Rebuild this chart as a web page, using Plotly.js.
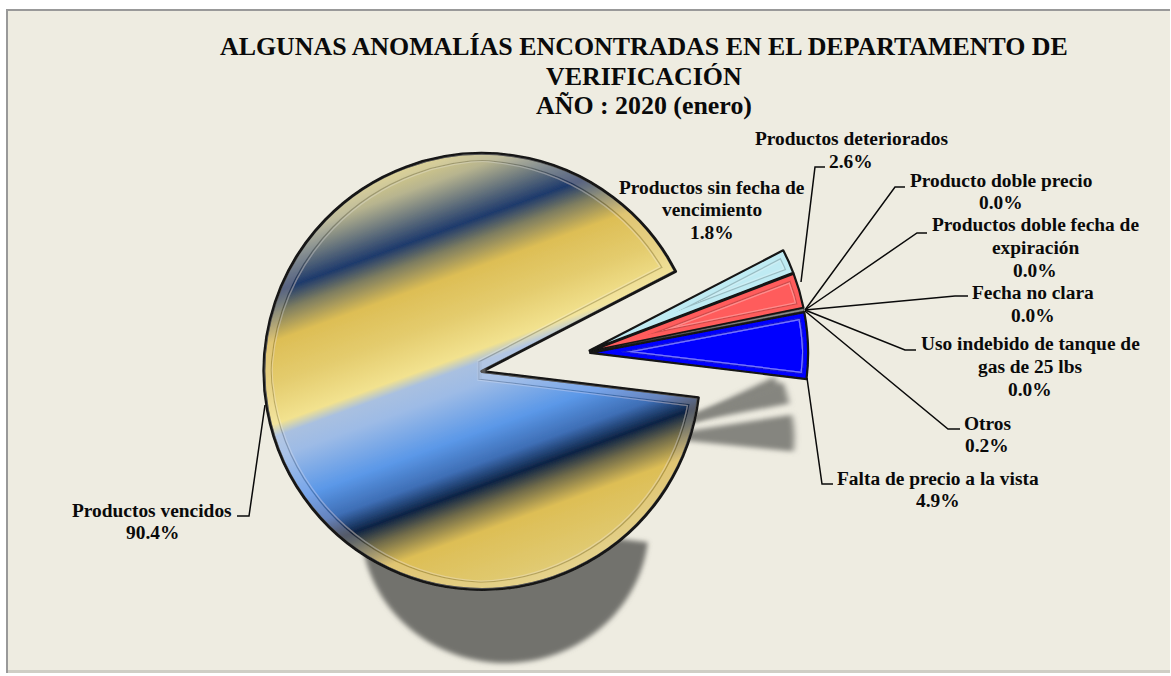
<!DOCTYPE html>
<html>
<head>
<meta charset="utf-8">
<script src="https://cdn.plot.ly/plotly-3.0.1.min.js"></script>
<style>html,body{margin:0;padding:0;background:#fff;overflow:hidden}#chart{width:1171px;height:676px}</style>
</head>
<body>
<div id="chart"></div>
<script>
// ---------- data ----------
const categories = ['Productos vencidos','Productos sin fecha de vencimiento','Productos deteriorados','Producto doble precio','Productos doble fecha de expiración','Fecha no clara','Uso indebido de tanque de gas de 25 lbs','Otros','Falta de precio a la vista'];
const percentages = [90.4,1.8,2.6,0.0,0.0,0.0,0.0,0.2,4.9];
const titleLines = ['ALGUNAS ANOMALÍAS ENCONTRADAS EN EL DEPARTAMENTO DE','VERIFICACIÓN','AÑO : 2020 (enero)'];
// wrapped category text for the data labels
const labelLines = [['Productos vencidos'],['Productos sin fecha de','vencimiento'],['Productos deteriorados'],['Producto doble precio'],['Productos doble fecha de','expiración'],['Fecha no clara'],['Uso indebido de tanque de','gas de 25 lbs'],['Otros'],['Falta de precio a la vista']];
// ---------- layout helpers ----------
const W = 1171, H = 676;
const px = x => x / W, py = y => 1 - y / H;
const labelPos = [[152,521.5],[712,210],[851,150],[1001,191.5],[1035,247.5],[1033,304],[1030,366.5],[987,434.5],[938,489.5]];
const leaders = [
  [[237,516],[249,516],[265,405]], null,
  [[825,167],[815,167],[801,282]],
  [[905,187],[895,187],[805,310]],
  [[927,233],[917,233],[805,310]],
  [[968,296],[955,296],[805,310]],
  [[916,350],[905,350],[805,310]],
  [[960,429],[948,429],[805,311]],
  [[833,484],[822,484],[807,378]]
];
const sliceColors = ['#DDBE55','#BFEBF3','#FF5B5B','#999','#999','#999','#999','#8a8a8a','#0000FF'];
const sliceLineWidths = [3,2.2,2.2,0,0,0,0,0.6,2.2];
// shadow fit: [sx, sy, x0, y0, x1, y1] maps page point (x0,y0) to (x1,y1)
const shadowFits = [[.66,.63,482,372,505,526],[.66,.62,795,275,782,392],[.66,.62,800,312,787,406],null,null,null,null,null,[.66,.55,806,380,793,452]];
const gradientStops = [[-225,'#E3D585'],[-195,'#B7B48F'],[-146,'#1E3A6C'],[-126,'#7F7E60'],[-100,'#DDBE55'],[-60,'#E4CC6E'],[-22,'#F2E28F'],[-10,'#A9C0E0'],[10,'#9DBBE6'],[55,'#5B98E8'],[85,'#3E6EB5'],[107,'#0D2344'],[125,'#6F6A4A'],[150,'#DDBE55'],[200,'#E0C96F'],[225,'#E3D080']];

const fontFam = '"Liberation Serif", "Times New Roman", serif';
const annotations = [];
titleLines.forEach((t,i)=>annotations.push({text:'<b>'+t+'</b>',xref:'paper',yref:'paper',x:px(644),y:py(47+i*29.3),xanchor:'center',yanchor:'middle',showarrow:false,font:{family:fontFam,size:25.9,color:'#0a0a0a'}}));
categories.forEach((c,i)=>{
  const lines = labelLines[i].concat([percentages[i].toFixed(1)+'%']);
  const [cx,cy] = labelPos[i];
  lines.forEach((t,j)=>annotations.push({text:'<b>'+t+'</b>',xref:'paper',yref:'paper',x:px(cx),y:py(cy+(j-(lines.length-1)/2)*22.6),xanchor:'center',yanchor:'middle',showarrow:false,font:{family:fontFam,size:19.4,color:'#0a0a0a'}}));
});
const shapes = [
  {type:'rect',xref:'paper',yref:'paper',x0:px(7),x1:px(1170),y0:py(10),y1:py(673),fillcolor:'#EEECE1',line:{width:0},layer:'below'},
  {type:'rect',xref:'paper',yref:'paper',x0:px(7),x1:px(1170),y0:py(670),y1:py(673),fillcolor:'#CFCEC5',line:{width:0},layer:'below'},
  {type:'path',xref:'paper',yref:'paper',path:`M${px(7)} ${py(673)} L${px(7)} ${py(10)} L${px(1170)} ${py(10)}`,line:{color:'#999',width:2},layer:'below'}
];
leaders.forEach(l=>{ if(l) shapes.push({type:'path',xref:'paper',yref:'paper',path:l.map((p,i)=>(i?'L':'M')+px(p[0])+' '+py(p[1])).join(' '),line:{color:'#0a0a0a',width:1.5},layer:'above'}); });

const trace = {type:'pie',labels:categories,values:percentages,sort:false,direction:'clockwise',rotation:96.9,
  pull:[.474,.03,.03,.03,.03,.03,.03,.03,.03],textinfo:'none',hoverinfo:'none',showlegend:false,
  marker:{colors:sliceColors,line:{color:'#141414',width:sliceLineWidths}},
  domain:{x:[px(583.6-321.3),px(583.6+321.3)],y:[py(353.1+321.3),py(353.1-321.3)]}};
const layout = {width:W,height:H,margin:{l:0,r:0,t:0,b:0},paper_bgcolor:'#fff',showlegend:false,annotations,shapes};

const bevel = (id,inset,bandOpacity) => `
  <filter id="${id}" x="-10%" y="-10%" width="120%" height="120%">
    <feMorphology in="SourceAlpha" operator="erode" radius="2" result="e00"/>
    <feMorphology in="SourceAlpha" operator="erode" radius="${inset}" result="e0"/>
    <feMorphology in="SourceAlpha" operator="erode" radius="${inset+1}" result="e1"/>
    <feMorphology in="SourceAlpha" operator="erode" radius="${inset+2}" result="e2"/>
    <feComposite in="e00" in2="e0" operator="out" result="r0"/>
    <feComposite in="e0" in2="e1" operator="out" result="r1"/>
    <feComposite in="e1" in2="e2" operator="out" result="r2"/>
    <feFlood flood-color="#fff" flood-opacity="${bandOpacity}"/><feComposite in2="r0" operator="in" result="band"/>
    <feFlood flood-color="#fff" flood-opacity=".18"/><feComposite in2="r2" operator="in" result="light"/>
    <feFlood flood-color="#2a2a2a" flood-opacity=".4"/><feComposite in2="r1" operator="in" result="dark"/>
    <feMerge result="rings"><feMergeNode in="band"/><feMergeNode in="dark"/><feMergeNode in="light"/></feMerge>
    <feGaussianBlur in="rings" stdDeviation=".6" result="soft"/>
    <feMerge><feMergeNode in="SourceGraphic"/><feMergeNode in="soft"/></feMerge>
  </filter>`;

Plotly.newPlot('chart',[trace],layout,{displayModeBar:false,staticPlot:true}).then(gd=>{
  const NS='http://www.w3.org/2000/svg';
  const svg=gd.querySelector('svg.main-svg');
  const defs=document.createElementNS(NS,'defs');
  defs.innerHTML=bevel('bevelMain',8,.09)+bevel('bevelSmall',5,0)+`
  <filter id="shMain" x="-20%" y="-30%" width="140%" height="160%"><feGaussianBlur stdDeviation="4"/></filter>
  <filter id="shSmall" x="-20%" y="-60%" width="140%" height="220%"><feGaussianBlur stdDeviation="4.5"/></filter>`;
  svg.insertBefore(defs,svg.firstChild);
  const paths=[...gd.querySelectorAll('.pielayer .slice path.surface')];
  const layer=gd.querySelector('.pielayer');
  const shadowGroup=document.createElementNS(NS,'g');
  layer.insertBefore(shadowGroup,layer.firstChild);
  paths.forEach(p=>{
    const i=p.parentNode.__data__.i;
    const fit=shadowFits[i];
    if(fit){
      const m=p.getCTM();
      const [sx,sy,x0,y0,x1,y1]=fit;
      const c=document.createElementNS(NS,'path');
      c.setAttribute('d',p.getAttribute('d'));
      c.setAttribute('transform',`translate(${x1-sx*x0} ${y1-sy*y0}) scale(${sx} ${sy}) matrix(${m.a} ${m.b} ${m.c} ${m.d} ${m.e} ${m.f})`);
      c.setAttribute('fill',i===0?'#72726D':'#85857F');
      c.setAttribute('filter',i===0?'url(#shMain)':'url(#shSmall)');
      shadowGroup.appendChild(c);
    }
    p.setAttribute('filter',i===0?'url(#bevelMain)':'url(#bevelSmall)');
    if(i===0){
      const m=p.getScreenCTM().inverse();
      const toLocal=(x,y)=>{const q=svg.createSVGPoint();q.x=x;q.y=y;return q.matrixTransform(m);};
      const a=toLocal(405,160.5), b=toLocal(559,583.5);
      const g=document.createElementNS(NS,'linearGradient');
      g.id='mainGrad';g.setAttribute('gradientUnits','userSpaceOnUse');
      g.setAttribute('x1',a.x);g.setAttribute('y1',a.y);g.setAttribute('x2',b.x);g.setAttribute('y2',b.y);
      gradientStops.forEach(([t,col])=>{const s=document.createElementNS(NS,'stop');s.setAttribute('offset',(t+225)/450);s.setAttribute('stop-color',col);g.appendChild(s);});
      defs.appendChild(g);
      p.style.fill='url(#mainGrad)';
    }
  });
});
</script>
</body>
</html>
